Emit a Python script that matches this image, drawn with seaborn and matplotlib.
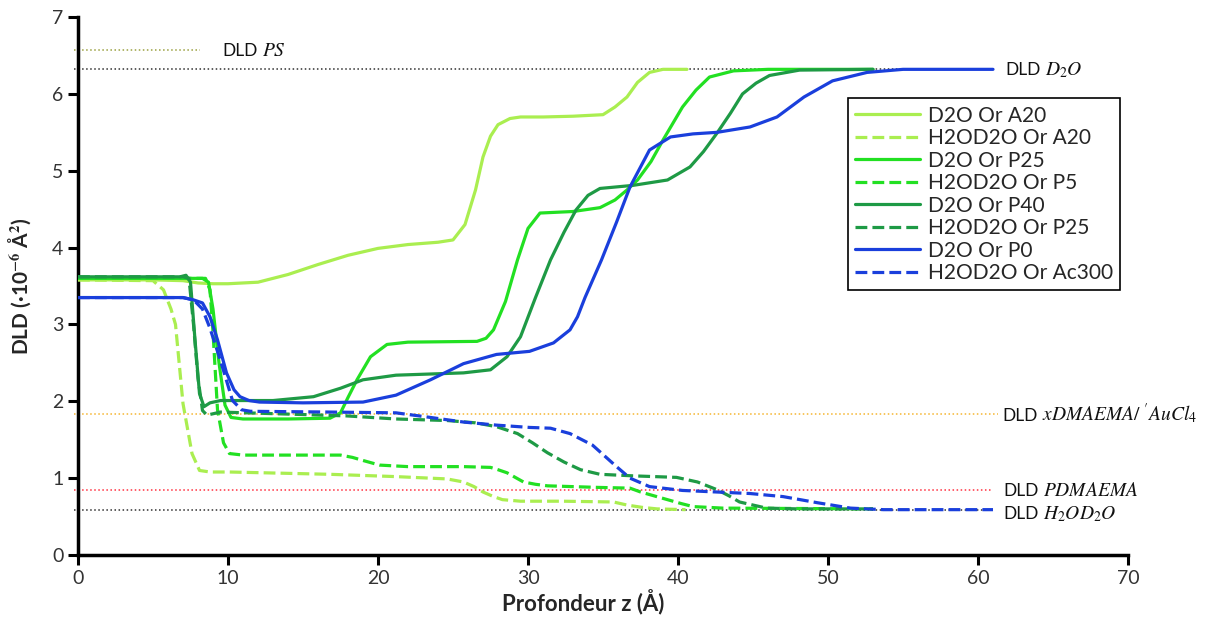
import matplotlib
matplotlib.use('Agg')
import matplotlib.pyplot as plt
import seaborn as sns
import pandas as pd

# ---- données ----
# D2O Or A20
d2o_a20_z = [0, 5, 7, 8, 9, 10, 12, 14, 16, 18, 20, 22, 24, 25, 25.8, 26.5, 27, 27.5, 28, 28.8,
             29.5, 31, 33, 35, 35.8, 36.6, 37.3, 38.1, 39, 40.6]
d2o_a20_dld = [3.58, 3.58, 3.57, 3.54, 3.53, 3.53, 3.55, 3.65, 3.78, 3.90, 3.99, 4.04, 4.07, 4.10,
               4.30, 4.75, 5.18, 5.45, 5.60, 5.68, 5.70, 5.70, 5.71, 5.73, 5.83, 5.96, 6.15, 6.28,
               6.32, 6.32]
# H2OD2O Or A20
h2o_a20_z = [0, 5.0, 5.7, 6.2, 6.5, 7.0, 7.6, 8.1, 8.8, 10.1, 16.8, 21.2, 24.6, 25.7, 26.4, 27.0,
             27.7, 28.3, 29.5, 32.3, 35.7, 36.6, 37.6, 38.6, 40.5]
h2o_a20_dld = [3.58, 3.57, 3.45, 3.2, 3.0, 1.97, 1.32, 1.1, 1.08, 1.08, 1.05, 1.02, 0.99, 0.95,
               0.89, 0.82, 0.76, 0.72, 0.70, 0.70, 0.69, 0.65, 0.62, 0.60, 0.59]
# D2O Or P25
d2o_p25_z = [0, 8.3, 8.7, 9.0, 9.4, 9.8, 10.2, 11, 14, 16.8, 17.5, 18.0, 18.6, 19.5, 20.6, 22,
             26.6, 27.2, 27.7, 28.5, 29.3, 30.0, 30.8, 33, 34.8, 35.8, 36.6, 37.3, 38.2, 39.0,
             40.3, 41.2, 42.1, 43.7, 46, 53]
d2o_p25_dld = [3.60, 3.60, 3.55, 3.2, 2.5, 1.95, 1.79, 1.77, 1.77, 1.78, 1.85, 2.05, 2.28, 2.58,
               2.74, 2.77, 2.78, 2.82, 2.93, 3.3, 3.84, 4.25, 4.45, 4.47, 4.52, 4.62, 4.75, 4.88,
               5.12, 5.4, 5.83, 6.05, 6.22, 6.30, 6.32, 6.32]
# H2OD2O Or P5
h2o_p5_z = [0, 8.5, 8.8, 9.0, 9.3, 9.7, 10.1, 11, 17.5, 18.3, 19.0, 20.1, 22, 25.7, 27.5, 28.0,
            28.6, 29.7, 30.5, 31.3, 34.6, 36.8, 37.5, 38.4, 39.3, 40.2, 41, 43, 53]
h2o_p5_dld = [3.60, 3.60, 3.45, 2.9, 1.89, 1.46, 1.32, 1.30, 1.30, 1.27, 1.23, 1.17, 1.15, 1.15,
              1.14, 1.11, 1.07, 0.95, 0.92, 0.90, 0.88, 0.87, 0.82, 0.77, 0.72, 0.67, 0.63, 0.61,
              0.60]
# D2O Or P40
d2o_p40_z = [0, 6.8, 7.2, 7.5, 7.8, 8.1, 8.4, 8.8, 9.5, 13, 15.7, 17.5, 19, 21.2, 25.7, 27.5,
             28.6, 29.5, 30.5, 31.5, 32.4, 33.2, 34.0, 34.8, 37, 39.3, 40.8, 41.7, 42.6, 43.5,
             44.3, 45.2, 46.1, 48.1, 53]
d2o_p40_dld = [3.62, 3.62, 3.64, 3.55, 2.8, 2.1, 1.93, 1.98, 2.01, 2.01, 2.06, 2.17, 2.28, 2.34,
               2.37, 2.41, 2.58, 2.84, 3.35, 3.84, 4.2, 4.49, 4.68, 4.77, 4.81, 4.88, 5.05, 5.25,
               5.49, 5.75, 6.0, 6.14, 6.24, 6.31, 6.32]
# H2OD2O Or P25
h2o_p25_z = [0, 7.0, 7.4, 7.7, 8.0, 8.3, 8.6, 9.5, 14.6, 17.9, 21.2, 24.6, 26.5, 27.9, 29.3,
             30.3, 31.3, 32.4, 33.5, 34.8, 37.0, 39.9, 41.3, 42.6, 43.4, 44.1, 45.9, 48, 53]
h2o_p25_dld = [3.62, 3.62, 3.60, 3.0, 2.3, 1.88, 1.82, 1.86, 1.83, 1.81, 1.77, 1.75, 1.72, 1.67,
               1.58, 1.46, 1.33, 1.21, 1.11, 1.05, 1.03, 1.01, 0.95, 0.85, 0.77, 0.69, 0.61,
               0.60, 0.60]
# D2O Or P0
d2o_p0_z = [0, 7.0, 7.7, 8.3, 8.8, 9.3, 9.9, 10.4, 10.8, 11.4, 12.1, 15, 19, 21.2, 23.5, 25.7,
            27.9, 30.1, 31.7, 32.8, 33.3, 33.8, 34.9, 35.9, 36.8, 38.1, 39.5, 41, 42.6, 44.8,
            46.6, 48.4, 50.3, 52.6, 55, 61]
d2o_p0_dld = [3.35, 3.35, 3.32, 3.28, 3.1, 2.8, 2.37, 2.15, 2.06, 2.01, 1.99, 1.98, 1.99, 2.08,
              2.28, 2.49, 2.61, 2.65, 2.76, 2.93, 3.10, 3.35, 3.84, 4.33, 4.79, 5.27, 5.44, 5.48,
              5.50, 5.57, 5.70, 5.96, 6.17, 6.28, 6.32, 6.32]
# H2OD2O Or Ac300
h2o_ac300_z = [0, 7.0, 7.7, 8.3, 8.8, 9.3, 9.7, 10.3, 10.9, 11.5, 16.8, 21.2, 23.5, 25.7, 27.9,
               30.1, 31.5, 32.8, 34.3, 35.9, 36.8, 38.1, 40.3, 44.8, 47, 49.3, 51.5, 53.7, 61]
h2o_ac300_dld = [3.35, 3.35, 3.32, 3.2, 2.95, 2.65, 2.4, 2.01, 1.89, 1.87, 1.86, 1.85, 1.79,
                 1.73, 1.69, 1.66, 1.65, 1.58, 1.43, 1.15, 1.0, 0.89, 0.84, 0.80, 0.76, 0.68,
                 0.61, 0.59, 0.59]

# niveaux de référence (DLD théoriques)
ref_names = ['$PS$', '$D_2O$', r'$xDMAEMA/\ ^{\prime}AuCl_4$', '$PDMAEMA$', '$H_2OD_2O$']
ref_levels = [6.57, 6.32, 1.83, 0.845, 0.59]
ref_z_end = [8.1, 60.8, 61.3, 61.0, 61.0]
ref_label_z = [9.6, 61.8, 61.6, 61.7, 61.7]
ref_label_dld = [6.57, 6.32, 1.83, 0.845, 0.55]

series = [
    ('D2O Or A20', d2o_a20_z, d2o_a20_dld),
    ('H2OD2O Or A20', h2o_a20_z, h2o_a20_dld),
    ('D2O Or P25', d2o_p25_z, d2o_p25_dld),
    ('H2OD2O Or P5', h2o_p5_z, h2o_p5_dld),
    ('D2O Or P40', d2o_p40_z, d2o_p40_dld),
    ('H2OD2O Or P25', h2o_p25_z, h2o_p25_dld),
    ('D2O Or P0', d2o_p0_z, d2o_p0_dld),
    ('H2OD2O Or Ac300', h2o_ac300_z, h2o_ac300_dld),
]
colors = ['#aaee50', '#aaee50', '#22e022', '#22e022', '#1e9a45', '#1e9a45', '#1a3fdc', '#1a3fdc']
styles = ['-', '--', '-', '--', '-', '--', '-', '--']
ref_colors = ['#9aa040', '#303030', '#f5b530', '#ff3040', '#303030']

sns.set_theme(style='white')
plt.rcParams['font.family'] = ['Lato', 'DejaVu Sans']
plt.rcParams['mathtext.fontset'] = 'stix'

fig = plt.figure(figsize=(12.15, 6.19), dpi=100)
ax = fig.add_axes([0.0642, 0.1034, 0.8642, 0.869])

# lignes de référence pointillées
for lev, zend, c in zip(ref_levels, ref_z_end, ref_colors):
    ax.hlines(lev, -0.3, zend, colors=c, linestyles=':', linewidth=1.1, clip_on=False, zorder=1)

# étiquettes "DLD" + formule (formule en italique, un peu plus grande)
renderer = fig.canvas.get_renderer()
for name, zx, zy in zip(ref_names, ref_label_z, ref_label_dld):
    t = ax.text(zx, zy - 0.08, 'DLD', fontsize=12.5, va='baseline', ha='left',
                color='#111111', clip_on=False)
    w = t.get_window_extent(renderer).width * 72 / fig.dpi
    ax.annotate(name, xy=(zx, zy - 0.08), xytext=(w + 3, 0), textcoords='offset points',
                fontsize=14, va='baseline', ha='left', color='#111111',
                annotation_clip=False)

# profils
for (name, z, dld), c, ls in zip(series, colors, styles):
    df = pd.DataFrame({'z': z, 'dld': dld})
    sns.lineplot(data=df, x='z', y='dld', ax=ax, color=c, linestyle=ls, linewidth=2.3,
                 label=name, sort=False, estimator=None, zorder=3)

ax.set_xlim(0, 70)
ax.set_ylim(0, 7)
ax.set_xticks(range(0, 71, 10))
ax.set_yticks(range(0, 8))
for s in ['top', 'right']:
    ax.spines[s].set_visible(False)
for s in ['left', 'bottom']:
    ax.spines[s].set_linewidth(2.5)
    ax.spines[s].set_color('black')
ax.tick_params(direction='out', length=7, width=2.2, color='black', labelsize=14,
               labelcolor='#333333', left=True, bottom=True)

ax.set_xlabel('Profondeur z (Å)', fontsize=16, fontweight='bold')
ax.xaxis.set_label_coords(0.481, -0.063)
ax.set_ylabel(r'DLD (·10$^{\mathbf{-6}}$ Å$^{\mathbf{2}}$)', fontsize=15, fontweight='bold')
ax.yaxis.set_label_coords(-0.043, 0.50)

leg = ax.legend(loc='upper left', bbox_to_anchor=(0.733, 0.849), borderaxespad=0,
                fontsize=15, frameon=True, fancybox=False, edgecolor='black', framealpha=1,
                handlelength=3.1, labelspacing=0.12, borderpad=0.35, handletextpad=0.4)
leg.get_frame().set_linewidth(1.2)

plt.savefig('out.png', dpi=100)
